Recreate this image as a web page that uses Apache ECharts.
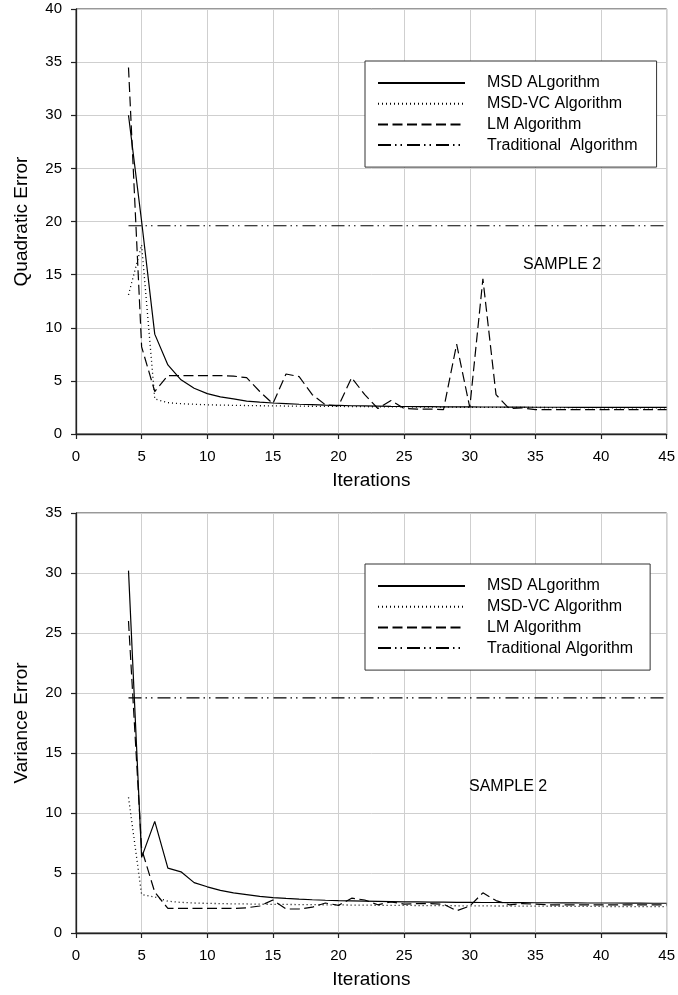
<!DOCTYPE html>
<html>
<head>
<meta charset="utf-8">
<script src="https://cdn.jsdelivr.net/npm/echarts@6/dist/echarts.min.js"></script>
<style>
html,body{margin:0;padding:0;background:#fff;}
#chart{width:678px;height:995px;}
</style>
</head>
<body>
<div id="chart"></div>
<script>
const iterations = [4,5,6,7,8,9,10,11,12,13,14,15,16,17,18,19,20,21,22,23,24,25,26,27,28,29,30,31,32,33,34,35,36,37,38,39,40,41,42,43,44,45];

// Top chart: Quadratic Error
const quadMSD = [30.0,20.0,9.4,6.5,5.1,4.3,3.8,3.5,3.3,3.1,3.0,2.92,2.86,2.8,2.76,2.72,2.69,2.66,2.64,2.62,2.6,2.59,2.58,2.57,2.56,2.55,2.55,2.54,2.54,2.53,2.53,2.52,2.52,2.52,2.51,2.51,2.51,2.5,2.5,2.5,2.5,2.5];
const quadMSDVC = [13.1,17.8,3.3,2.95,2.85,2.8,2.75,2.72,2.7,2.68,2.66,2.65,2.63,2.62,2.61,2.6,2.6,2.58,2.57,2.56,2.55,2.55,2.54,2.53,2.53,2.52,2.52,2.51,2.51,2.5,2.5,2.5,2.49,2.49,2.48,2.48,2.47,2.47,2.46,2.46,2.45,2.45];
const quadLM = [34.5,8.2,4.0,5.5,5.5,5.5,5.5,5.5,5.45,5.3,4.0,2.85,5.65,5.4,3.7,2.75,2.65,5.3,3.7,2.4,3.15,2.4,2.35,2.35,2.3,8.45,2.5,14.6,3.7,2.4,2.45,2.3,2.3,2.3,2.3,2.3,2.3,2.3,2.3,2.3,2.3,2.3];
const quadTradX = [4,45];
const quadTrad = [19.6,19.6];

// Bottom chart: Variance Error
const varMSD = [30.2,6.3,9.3,5.4,5.1,4.2,3.85,3.55,3.35,3.2,3.05,2.95,2.88,2.82,2.77,2.73,2.7,2.68,2.66,2.64,2.62,2.6,2.59,2.58,2.57,2.56,2.55,2.54,2.54,2.53,2.53,2.52,2.52,2.51,2.51,2.5,2.5,2.5,2.49,2.49,2.48,2.48];
const varMSDVC = [11.3,3.2,3.0,2.65,2.55,2.5,2.47,2.45,2.43,2.42,2.4,2.39,2.38,2.37,2.36,2.35,2.34,2.33,2.32,2.31,2.3,2.3,2.29,2.28,2.28,2.27,2.26,2.26,2.25,2.25,2.24,2.24,2.23,2.23,2.22,2.22,2.21,2.21,2.2,2.2,2.19,2.19];
const varLM = [26.0,7.0,3.4,2.05,2.05,2.05,2.05,2.05,2.05,2.1,2.25,2.75,2.0,2.0,2.15,2.5,2.3,2.9,2.75,2.35,2.6,2.4,2.45,2.45,2.4,1.85,2.25,3.35,2.7,2.35,2.45,2.4,2.35,2.35,2.35,2.35,2.35,2.35,2.35,2.35,2.35,2.35];
const varTradX = [4,45];
const varTrad = [19.6,19.6];

const xTicks = {min:0, max:45, interval:5};
const quadYTicks = {min:0, max:40, interval:5};
const varYTicks = {min:0, max:35, interval:5};

const seriesNamesTop = ['MSD ALgorithm','MSD-VC Algorithm','LM Algorithm','Traditional  Algorithm'];
const seriesNamesBottom = ['MSD ALgorithm','MSD-VC Algorithm','LM Algorithm','Traditional Algorithm'];
const sampleLabel = 'SAMPLE 2';

const FONT = 'Liberation Sans, Arial, Helvetica, sans-serif';
const pair = (xs, ys) => xs.map((x, i) => [x, ys[i]]);

const styles = [
  {type:'solid', width:1.2},
  {type:[1,3], width:1.3},
  {type:[10,4.5], width:1.2},
  {type:[13,4,1.5,4,1.5,5], width:1.2}
];

function makeXAxis(gridIndex){
  return {
    type:'value', gridIndex, min:xTicks.min, max:xTicks.max, interval:xTicks.interval,
    name:'Iterations', nameLocation:'middle', nameGap:37,
    nameTextStyle:{fontFamily:FONT, fontSize:19, color:'#000'},
    axisLine:{show:true, onZero:false, lineStyle:{color:'#222', width:1.3}},
    axisTick:{show:true, inside:false, length:5, lineStyle:{color:'#222', width:1.2}},
    axisLabel:{fontFamily:FONT, fontSize:15, color:'#000', margin:15},
    splitLine:{show:true, lineStyle:{color:'#cfcfcf', width:1}}
  };
}
function makeYAxis(gridIndex, ticks, name){
  return {
    type:'value', gridIndex, min:ticks.min, max:ticks.max, interval:ticks.interval,
    name, nameLocation:'middle', nameGap:45,
    nameTextStyle:{fontFamily:FONT, fontSize:19, color:'#000'},
    axisLine:{show:true, onZero:false, lineStyle:{color:'#222', width:1.3}},
    axisTick:{show:true, inside:false, length:5, lineStyle:{color:'#222', width:1.2}},
    axisLabel:{fontFamily:FONT, fontSize:15, color:'#000', margin:14},
    splitLine:{show:true, lineStyle:{color:'#cfcfcf', width:1}}
  };
}
function lineSeries(name, data, idx, gridIdx){
  return {
    name, type:'line', xAxisIndex:gridIdx, yAxisIndex:gridIdx, data,
    symbol:'none', showSymbol:false, smooth:false, silent:true,
    lineStyle:{color:'#000', width:styles[idx].width, type:styles[idx].type},
    itemStyle:{color:'#000'}
  };
}
function makeLegend(top, names, padRight){
  return {
    show:true, orient:'vertical', left:365, top,
    data:names.map(n => ({name:n})),
    itemWidth:87, itemHeight:16, itemGap:4.7,
    padding:[14, padRight, 14, 12],
    backgroundColor:'#fff', borderColor:'#333', borderWidth:1, borderRadius:0,
    itemStyle:{opacity:0, color:'rgba(0,0,0,0)', borderWidth:0},
    textStyle:{fontFamily:FONT, fontSize:16, color:'#000', lineHeight:16, padding:[0,0,0,17]},
    selectedMode:false
  };
}

const chart = echarts.init(document.getElementById('chart'), null, {renderer:'canvas'});
chart.setOption({
  animation:false,
  backgroundColor:'#fff',
  grid:[
    {left:76, top:9, width:591, height:425, show:true, borderColor:'#333', borderWidth:1, backgroundColor:'transparent'},
    {left:76, top:513, width:591, height:420, show:true, borderColor:'#333', borderWidth:1, backgroundColor:'transparent'}
  ],
  xAxis:[makeXAxis(0), makeXAxis(1)],
  yAxis:[makeYAxis(0, quadYTicks, 'Quadratic Error'), makeYAxis(1, varYTicks, 'Variance Error')],
  legend:[makeLegend(61, seriesNamesTop, 19), makeLegend(564, seriesNamesBottom, 17)],
  title:[
    {text:sampleLabel, left:523, top:257, padding:0, textStyle:{fontFamily:FONT, fontSize:16, fontWeight:'normal', color:'#000'}},
    {text:sampleLabel, left:469, top:779, padding:0, textStyle:{fontFamily:FONT, fontSize:16, fontWeight:'normal', color:'#000'}}
  ],
  series:[
    lineSeries(seriesNamesTop[0], pair(iterations, quadMSD), 0, 0),
    lineSeries(seriesNamesTop[1], pair(iterations, quadMSDVC), 1, 0),
    lineSeries(seriesNamesTop[2], pair(iterations, quadLM), 2, 0),
    lineSeries(seriesNamesTop[3], pair(quadTradX, quadTrad), 3, 0),
    lineSeries(seriesNamesBottom[0], pair(iterations, varMSD), 0, 1),
    lineSeries(seriesNamesBottom[1], pair(iterations, varMSDVC), 1, 1),
    lineSeries(seriesNamesBottom[2], pair(iterations, varLM), 2, 1),
    lineSeries(seriesNamesBottom[3], pair(varTradX, varTrad), 3, 1)
  ]
});
</script>
</body>
</html>
